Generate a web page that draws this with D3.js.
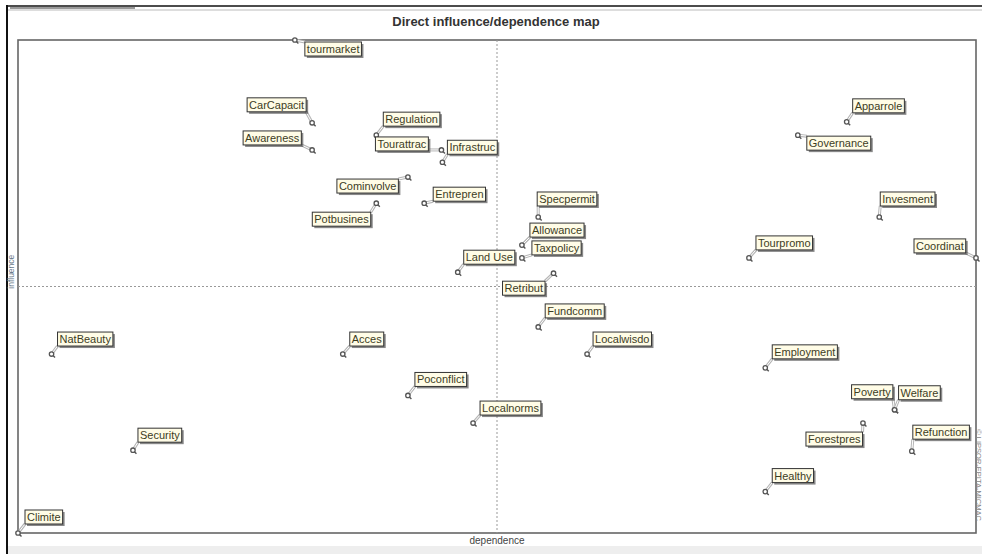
<!DOCTYPE html>
<html>
<head>
<meta charset="utf-8">
<script src="https://cdn.jsdelivr.net/npm/d3@7"></script>
<style>
  body { margin: 0; background: #fff; }
  svg { display: block; font-family: Arial, "Liberation Sans", sans-serif; }
</style>
</head>
<body>
<svg id="map" width="982" height="554"></svg>
<script>
// variables of the MICMAC direct map
var names = ["tourmarket", "CarCapacit", "Awareness", "Regulation", "Tourattrac", "Infrastruc",
  "Cominvolve", "Entrepren", "Potbusines", "Land Use", "Specpermit", "Allowance", "Taxpolicy",
  "Retribut", "Tourpromo", "Apparrole", "Governance", "Invesment", "Coordinat", "NatBeauty",
  "Acces", "Poconflict", "Localnorms", "Security", "Climite", "Fundcomm", "Localwisdo",
  "Employment", "Poverty", "Welfare", "Forestpres", "Refunction", "Healthy"];

// dependence (x) and influence (y)
var dependence = [28.9, 30.7, 30.7, 37.4, 44.2, 44.3, 40.7, 42.4, 37.4, 45.9, 54.3, 52.6, 52.6,
  55.9, 76.3, 86.5, 81.4, 89.9, 100, 3.5, 33.9, 40.7, 47.5, 12.0, 0, 54.3, 59.4,
  78.0, 91.5, 91.5, 88.2, 93.3, 78.0];
var influence = [100, 83.2, 77.7, 80.7, 77.7, 75.2, 72.2, 66.9, 66.9, 52.9, 64.1, 58.4, 55.8,
  52.7, 55.8, 83.4, 80.7, 64.1, 55.8, 36.3, 36.3, 27.9, 22.3, 16.8, 0, 41.8, 36.3,
  33.5, 25.0, 25.0, 22.3, 16.6, 8.4];

var meanDependence = 50, meanInfluence = 50;

// label box placement relative to its point (top-left corner)
var labelOffset = {
  "tourmarket": [10, 2], "CarCapacit": [-65, -25], "Awareness": [-69, -19], "Regulation": [7, -23],
  "Tourattrac": [-66, -13], "Infrastruc": [5, -22], "Cominvolve": [-71, 2], "Entrepren": [9, -16],
  "Potbusines": [-64, 9], "Land Use": [6, -22], "Specpermit": [-1, -25], "Allowance": [8, -22],
  "Taxpolicy": [10, -17], "Retribut": [-51, 8], "Tourpromo": [7, -22], "Apparrole": [6, -23],
  "Governance": [9, 1], "Invesment": [1, -25], "Coordinat": [-62, -19], "NatBeauty": [6, -22],
  "Acces": [7, -22], "Poconflict": [7, -23], "Localnorms": [7, -22], "Security": [5, -22],
  "Climite": [7, -23], "Fundcomm": [7, -23], "Localwisdo": [6, -22], "Employment": [7, -23],
  "Poverty": [-43, -25], "Welfare": [4, -24], "Forestpres": [-57, 9], "Refunction": [1, -26],
  "Healthy": [7, -23]
};

var points = names.map(function(n, i) {
  return { name: n, dep: dependence[i], inf: influence[i] };
});

var svg = d3.select("#map");
var plotLeft = 18, plotRight = 976, plotTop = 40, plotBottom = 533;

var x = d3.scaleLinear().domain([0, 100]).range([plotLeft, plotRight]);
var y = d3.scaleLinear().domain([0, 100]).range([plotBottom, plotTop]);

// window chrome
svg.append("rect").attr("x", 8).attr("y", 546).attr("width", 974).attr("height", 8).attr("fill", "#eeeeee");
svg.append("line").attr("x1", 7).attr("x2", 7).attr("y1", 5).attr("y2", 554)
  .attr("stroke", "#111").attr("stroke-width", 2);
svg.append("line").attr("x1", 7).attr("x2", 982).attr("y1", 6).attr("y2", 6)
  .attr("stroke", "#111").attr("stroke-width", 1.5);
svg.append("line").attr("x1", 8).attr("x2", 982).attr("y1", 10).attr("y2", 10)
  .attr("stroke", "#bbb").attr("stroke-width", 1);
svg.append("rect").attr("x", 10).attr("y", 7).attr("width", 125).attr("height", 2).attr("fill", "#999");

svg.append("text")
  .attr("x", 496).attr("y", 26)
  .attr("text-anchor", "middle")
  .attr("font-size", 13).attr("font-weight", "bold").attr("fill", "#333")
  .text("Direct influence/dependence map");

// plot frame
svg.append("rect")
  .attr("x", plotLeft).attr("y", plotTop)
  .attr("width", plotRight - plotLeft).attr("height", plotBottom - plotTop)
  .attr("fill", "#fff").attr("stroke", "#666").attr("stroke-width", 1.6);

svg.append("line")
  .attr("x1", x(meanDependence)).attr("x2", x(meanDependence))
  .attr("y1", plotTop).attr("y2", plotBottom)
  .attr("stroke", "#999").attr("stroke-dasharray", "2,2");
svg.append("line")
  .attr("x1", plotLeft).attr("x2", plotRight)
  .attr("y1", y(meanInfluence)).attr("y2", y(meanInfluence))
  .attr("stroke", "#999").attr("stroke-dasharray", "2,2");

svg.append("text")
  .attr("x", x(meanDependence)).attr("y", 544)
  .attr("text-anchor", "middle").attr("font-size", 10).attr("fill", "#444")
  .text("dependence");
svg.append("text")
  .attr("transform", "translate(14," + y(meanInfluence + 3) + ") rotate(-90)")
  .attr("text-anchor", "middle").attr("font-size", 8.5).attr("fill", "#6a7a8a")
  .text("influence");
svg.append("text")
  .attr("transform", "translate(976,475) rotate(90)")
  .attr("text-anchor", "middle").attr("font-size", 7.5).attr("fill", "#888")
  .text("© LIPSOR-EPITA-MICMAC");

var g = svg.append("g").attr("class", "points");

var node = g.selectAll("g")
  .data(points)
  .enter().append("g");

// label boxes first measured, then leader lines drawn under them
var labels = node.append("g").attr("class", "label");
var txt = labels.append("text")
  .attr("font-size", 11).attr("fill", "#3d3d1e")
  .text(function(d) { return d.name; });

txt.each(function(d) {
  var off = labelOffset[d.name];
  d.w = this.getComputedTextLength() + 4;
  d.h = 14;
  d.bx = x(d.dep) + off[0];
  d.by = y(d.inf) + off[1];
  // nearest point of the box to the marker
  d.lx = Math.max(d.bx, Math.min(x(d.dep), d.bx + d.w));
  d.ly = Math.max(d.by, Math.min(y(d.inf), d.by + d.h));
});

node.insert("line", ".label")
  .attr("x1", function(d) { return x(d.dep); })
  .attr("y1", function(d) { return y(d.inf); })
  .attr("x2", function(d) { return d.lx; })
  .attr("y2", function(d) { return d.ly; })
  .attr("stroke", "#b5b5b5").attr("stroke-width", 3);
node.insert("line", ".label")
  .attr("x1", function(d) { return x(d.dep); })
  .attr("y1", function(d) { return y(d.inf); })
  .attr("x2", function(d) { return d.lx; })
  .attr("y2", function(d) { return d.ly; })
  .attr("stroke", "#fff").attr("stroke-width", 1);

// little pin marker: ring with a short tail
node.insert("line", ".label")
  .attr("x1", function(d) { return x(d.dep) + 1; })
  .attr("y1", function(d) { return y(d.inf) + 1; })
  .attr("x2", function(d) { return x(d.dep) + 3.5; })
  .attr("y2", function(d) { return y(d.inf) + 3.5; })
  .attr("stroke", "#555").attr("stroke-width", 1.4);
node.insert("circle", ".label")
  .attr("cx", function(d) { return x(d.dep); })
  .attr("cy", function(d) { return y(d.inf); })
  .attr("r", 2.2)
  .attr("fill", "#fff").attr("stroke", "#555").attr("stroke-width", 1.3);

labels.insert("rect", "text")
  .attr("x", function(d) { return d.bx + 2; })
  .attr("y", function(d) { return d.by + 2; })
  .attr("width", function(d) { return d.w; })
  .attr("height", function(d) { return d.h; })
  .attr("fill", "#555").attr("opacity", 0.7);
labels.insert("rect", "text")
  .attr("x", function(d) { return d.bx; })
  .attr("y", function(d) { return d.by; })
  .attr("width", function(d) { return d.w; })
  .attr("height", function(d) { return d.h; })
  .attr("fill", "#fffce6").attr("stroke", "#333").attr("stroke-width", 1);

txt.attr("x", function(d) { return d.bx + 2; })
  .attr("y", function(d) { return d.by + 11; });
</script>
</body>
</html>
